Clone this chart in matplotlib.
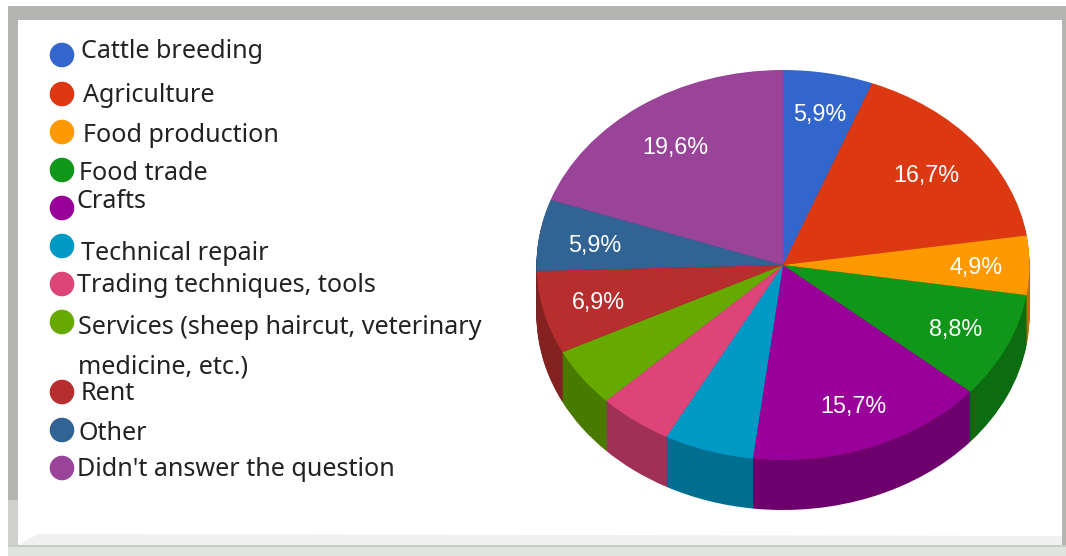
import matplotlib
matplotlib.use("Agg")
import matplotlib.pyplot as plt
from matplotlib.patches import Rectangle, Circle, Polygon
import math

# Survey shares, clockwise from twelve o'clock
categories = ["Cattle breeding", "Agriculture", "Food production", "Food trade", "Crafts",
              "Technical repair", "Trading techniques, tools",
              "Services (sheep haircut, veterinary\nmedicine, etc.)", "Rent", "Other",
              "Didn't answer the question"]
shares = [5.9, 16.7, 4.9, 8.8, 15.7, 5.9, 4.9, 4.9, 6.9, 5.9, 19.6]
slice_labels = ["5,9%", "16,7%", "4,9%", "8,8%", "15,7%", "", "", "", "6,9%", "5,9%", "19,6%"]
colors = ["#3366cc", "#dc3912", "#ff9900", "#109618", "#990099", "#0099c6",
          "#dd4477", "#66aa00", "#b82e2e", "#316395", "#994499"]

# Legend layout in pixels: marker centre y, text left x, text centre y
marker_y = [55, 94, 132, 170, 208, 246, 284, 322, 392, 430, 468]
text_x = [81, 83, 83, 79, 77, 81, 77, 78, 81, 79, 77]
text_y = [51, 95, 135, 173, 202, 253, 286, 347, 394, 434, 470]

# Hand placement of the slice labels, in pixels right / down of the default spot
label_dx = [2, -5, 3, 0, 2, 0, 0, 0, 0, -1, 2]
label_dy = [-6, 2, -1, -1, -1, 0, 0, 0, -2, 1, 2]

W, H = 1066, 556
LEGEND_FONT = "Noto Sans"
LABEL_FONT = "Liberation Sans"

fig = plt.figure(figsize=(W / 100, H / 100), dpi=100, facecolor="white")

# Pixel-addressed base layer for the frame and legend
base = fig.add_axes([0, 0, 1, 1])
base.set_xlim(0, W)
base.set_ylim(H, 0)
base.axis("off")

FRAME = "#b4b5b3"
base.add_patch(Rectangle((8, 6), W - 8, 14, color=FRAME, lw=0))
base.add_patch(Rectangle((8, 6), 10, 494, color=FRAME, lw=0))
base.add_patch(Rectangle((8, 500), 10, 45, color="#cfd0ce", lw=0))
base.add_patch(Rectangle((1062, 6), 4, 540, color=FRAME, lw=0))
base.add_patch(Polygon([(18, 545), (38, 534), (1062, 536), (1062, 545)], color="#f0f0f0", lw=0))
base.add_patch(Rectangle((8, 545), W - 8, 11, color="#e1e3e1", lw=0))
base.add_patch(Rectangle((8, 544.5), W - 8, 2.5, color="#c9cbc9", lw=0))

for name, color, my, tx, ty in zip(categories, colors, marker_y, text_x, text_y):
    base.add_patch(Circle((62, my), 12.3, color=color, lw=0))
    base.text(tx, ty, name, fontsize=18.1, family=LEGEND_FONT, color="#222222",
              ha="left", va="center", linespacing=1.77)

# Pie layer: ellipse 493 x 390 px with a 50 px deep side wall
CX_L, CX_R, TOP, BOTTOM, DEPTH = 536.5, 1029.5, 70, 460, 50
RX = (CX_R - CX_L) / 2
RY = (BOTTOM - TOP) / 2
ax = fig.add_axes([CX_L / W, (H - BOTTOM - DEPTH) / H, (CX_R - CX_L) / W,
                   (BOTTOM + DEPTH - TOP) / H])
ax.patch.set_alpha(0)


def darken(c, f=0.72):
    r, g, b = matplotlib.colors.to_rgb(c)
    return (r * f, g * f, b * f)


wall_colors = [darken(c) for c in colors]
for k in range(DEPTH, 0, -1):
    ax.pie(shares, colors=wall_colors, startangle=90, counterclock=False, radius=1,
           center=(0, -k / RY), wedgeprops={"linewidth": 0}, frame=True)
wedges, _ = ax.pie(shares, colors=colors, startangle=90, counterclock=False, radius=1,
                   center=(0, 0), wedgeprops={"linewidth": 0}, frame=True)

for wedge, text, dx, dy in zip(wedges, slice_labels, label_dx, label_dy):
    if text:
        mid = math.radians((wedge.theta1 + wedge.theta2) / 2)
        ax.text(0.77 * math.cos(mid) + dx / RX, 0.77 * math.sin(mid) - 0.015 - dy / RY, text,
                color="white", fontsize=16.8, family=LABEL_FONT, ha="center", va="center")

ax.set_aspect("auto")
ax.set_xlim(-1, 1)
ax.set_ylim(-1 - DEPTH / RY, 1)
ax.axis("off")

fig.savefig("out.png", dpi=100)
